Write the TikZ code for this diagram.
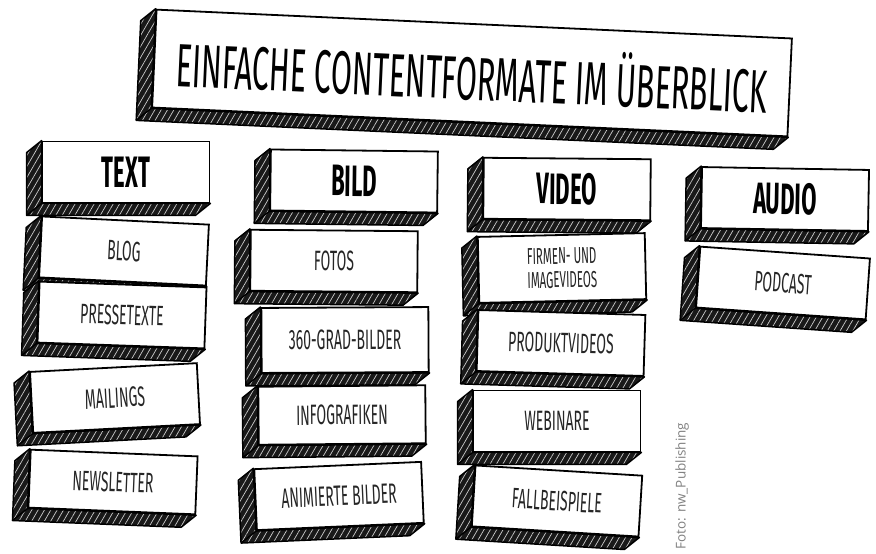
\documentclass[tikz,border=0pt]{standalone}
\usepackage{fontspec}
\newfontfamily\handfont{Fira Sans}[FakeStretch=0.5]
\newfontfamily\creditfont{Open Sans}
\usetikzlibrary{patterns.meta}
\pgfdeclarelayer{background}
\pgfsetlayers{background,main}

\newcommand{\boxsides}[1]{%
	\begin{pgfonlayer}{background}
		\draw [hatchface] (#1.north west) -- ([shift={(-15,12)}]#1.north west) -- ([shift={(-15,12)}]#1.south west) -- ([shift={(-15,12)}]#1.south east) -- (#1.south east) -- (#1.south west) -- cycle;
		\draw [line width=1.4pt] (#1.south west) -- ([shift={(-15,12)}]#1.south west);
	\end{pgfonlayer}}

\begin{document}
\begin{tikzpicture}[x=1pt,y=-1pt,
		hatchface/.style={draw,line width=1.5pt,line join=round,preaction={fill=black!90},pattern={Lines[angle=60,distance=5.5pt,line width=0.7pt]},pattern color=white!80!black},
		card/.style={draw,line width=1.8pt,fill=white,rectangle,minimum width=167,minimum height=61,inner sep=0pt,align=center},
		head/.style={card,font=\handfont\bfseries\fontsize{44}{44}\selectfont},
		item/.style={card,text=black!85,font=\handfont\fontsize{28}{28}\selectfont}]
		\useasboundingbox (0,0) rectangle (876,554);

		\node [card,minimum width=636,minimum height=98,rotate=-2.6,font=\handfont\fontsize{61}{61}\selectfont] (title) at (472,73) {EINFACHE CONTENTFORMATE IM ÜBERBLICK};

		\node [head] (text) at (126,172) {TEXT};
		\node [item,rotate=-2.8] (blog) at (124,251) {BLOG};
		\node [item,rotate=-2] (presse) at (122,315) {PRESSETEXTE};
		\node [item,rotate=3] (mailings) at (115,398) {MAILINGS};
		\node [item,rotate=-2.3,minimum height=58] (newsletter) at (113,482) {NEWSLETTER};

		\node [head,rotate=-0.7] (bild) at (354,181) {BILD};
		\node [item,rotate=-0.5] (fotos) at (334,261) {FOTOS};
		\node [item,rotate=0.3,minimum height=65] (grad) at (345,340) {360-GRAD-BILDER};
		\node [item,rotate=0.5,minimum height=58] (infografik) at (342,415) {INFOGRAFIKEN};
		\node [item,rotate=2.5] (animiert) at (339,496) {ANIMIERTE BILDER};

		\node [head,rotate=-0.5] (video) at (567,189) {VIDEO};
		\node [item,rotate=1.3,minimum height=66,font=\handfont\fontsize{23}{24}\selectfont] (firmen) at (562,268) {FIRMEN- UND\\IMAGEVIDEOS};
		\node [item,rotate=-1.7] (produkt) at (561,343) {PRODUKTVIDEOS};
		\node [item] (webinare) at (557,421) {WEBINARE};
		\node [item,rotate=-3.5] (fallbeispiele) at (557,501) {FALLBEISPIELE};

		\node [head,rotate=-1] (audio) at (785,199) {AUDIO};
		\node [item,rotate=-4,minimum width=170] (podcast) at (783,283) {PODCAST};

		\boxsides{title}
		\boxsides{text}
		\boxsides{blog}
		\boxsides{presse}
		\boxsides{mailings}
		\boxsides{newsletter}
		\boxsides{bild}
		\boxsides{fotos}
		\boxsides{grad}
		\boxsides{infografik}
		\boxsides{animiert}
		\boxsides{video}
		\boxsides{firmen}
		\boxsides{produkt}
		\boxsides{webinare}
		\boxsides{fallbeispiele}
		\boxsides{audio}
		\boxsides{podcast}

		\node [rotate=90,text=black!50,font=\creditfont\fontsize{13.5}{14}\selectfont] (credit) at (682,486) {Foto: nw\_Publishing};
	\end{tikzpicture}
\end{document}
